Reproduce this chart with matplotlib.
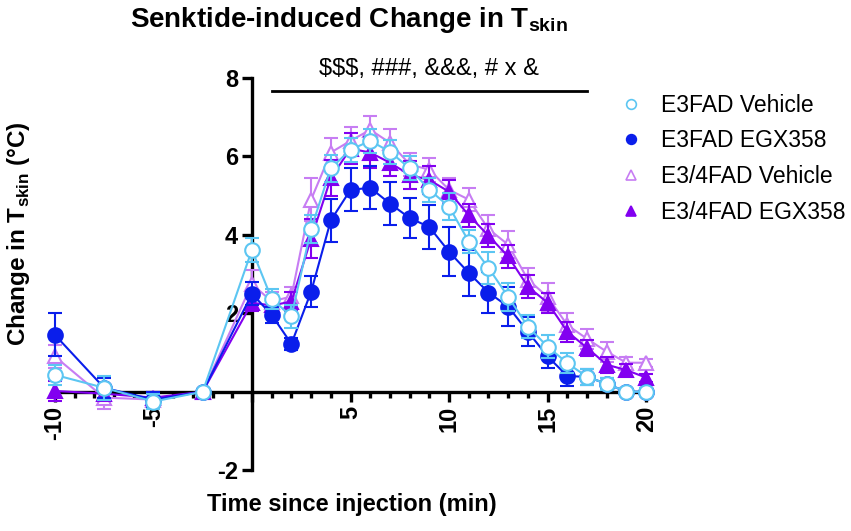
import numpy as np
import matplotlib
matplotlib.use("Agg")
import matplotlib.pyplot as plt
from matplotlib.lines import Line2D

plt.rcParams['font.family'] = ['Liberation Sans', 'DejaVu Sans']
plt.rcParams['mathtext.fontset'] = 'custom'
plt.rcParams['mathtext.rm'] = 'Liberation Sans'
plt.rcParams['mathtext.bf'] = 'Liberation Sans:bold'

# time points (min since injection)
times = [-10, -7.5, -5, -2.5, 0, 1, 2, 3, 4, 5, 6, 7, 8, 9, 10,
         11, 12, 13, 14, 15, 16, 17, 18, 19, 20]

e3_veh = [0.43, 0.1, -0.25, 0.0, 3.62, 2.37, 1.92, 4.15, 5.7, 6.17, 6.4, 6.12, 5.7,
          5.15, 4.72, 3.83, 3.16, 2.42, 1.66, 1.15, 0.73, 0.38, 0.2, 0.0, 0.0]
e3_veh_err = [0.25, 0.3, 0.2, 0.02, 0.3, 0.25, 0.3, 0.35, 0.35, 0.3, 0.3, 0.3, 0.3,
              0.3, 0.35, 0.3, 0.4, 0.35, 0.3, 0.3, 0.25, 0.2, 0.15, 0.1, 0.1]

e3_egx = [1.45, 0.1, -0.2, 0.0, 2.5, 1.96, 1.22, 2.55, 4.37, 5.15, 5.2, 4.8, 4.43,
          4.2, 3.57, 3.03, 2.53, 2.17, 1.53, 0.9, 0.4, 0.38, 0.2, 0.0, 0.0]
e3_egx_err = [0.55, 0.25, 0.2, 0.02, 0.3, 0.2, 0.15, 0.4, 0.55, 0.55, 0.55, 0.55, 0.5,
              0.55, 0.63, 0.58, 0.53, 0.49, 0.37, 0.3, 0.25, 0.2, 0.15, 0.1, 0.1]

e34_veh = [0.9, -0.15, -0.2, 0.0, 2.75, 2.3, 2.43, 4.9, 6.1, 6.4, 6.68, 6.35, 5.8,
           5.66, 5.15, 4.9, 4.15, 3.75, 2.86, 2.42, 1.7, 1.35, 1.02, 0.74, 0.74]
e34_veh_err = [0.3, 0.3, 0.2, 0.02, 0.35, 0.25, 0.25, 0.55, 0.38, 0.35, 0.36, 0.35, 0.3,
               0.3, 0.3, 0.3, 0.35, 0.35, 0.3, 0.35, 0.3, 0.25, 0.25, 0.15, 0.1]

e34_egx = [0.02, -0.05, -0.15, 0.0, 2.27, 2.2, 2.3, 3.9, 5.45, 6.2, 6.1, 5.84, 5.53,
           5.4, 5.1, 4.5, 3.98, 3.45, 2.68, 2.27, 1.53, 1.12, 0.69, 0.55, 0.36]
e34_egx_err = [0.25, 0.15, 0.15, 0.02, 0.2, 0.2, 0.25, 0.5, 0.45, 0.4, 0.4, 0.35, 0.35,
               0.35, 0.3, 0.3, 0.3, 0.3, 0.3, 0.25, 0.25, 0.2, 0.2, 0.15, 0.1]

labels = ['E3FAD Vehicle', 'E3FAD EGX358', 'E3/4FAD Vehicle', 'E3/4FAD EGX358']
colors = ['#5CC6F2', '#0A1EEB', '#C77DF3', '#8200F0']
markers = ['o', 'o', '^', '^']
filled = [False, True, False, True]

fig = plt.figure(figsize=(8.51, 5.31), dpi=100)
ax = fig.add_axes([0.0529, 0.0998, 0.718, 0.768])

series = [(e3_veh, e3_veh_err), (e3_egx, e3_egx_err),
          (e34_veh, e34_veh_err), (e34_egx, e34_egx_err)]
order = [2, 3, 1, 0]
for i in order:
    y, err = series[i]
    ax.errorbar(times, y, yerr=err, color=colors[i], lw=1.5, elinewidth=1.5,
                capsize=5, capthick=1.5, marker=markers[i], markersize=10.5,
                markeredgewidth=1.5, markeredgecolor=colors[i],
                markerfacecolor=colors[i] if filled[i] else 'white',
                clip_on=False, zorder=3 + order.index(i))

# axes styling
ax.set_xlim(-10.5, 20.5)
ax.set_ylim(-2.2, 8.2)
for s in ['top', 'right']:
    ax.spines[s].set_visible(False)
ax.spines['left'].set_position(('data', 0))
ax.spines['bottom'].set_position(('data', 0))
ax.spines['left'].set_bounds(-2, 8)
ax.spines['bottom'].set_bounds(-10, 20)
for s in ['left', 'bottom']:
    ax.spines[s].set_linewidth(2.4)

ax.set_xticks([-10, -5, 0, 5, 10, 15, 20])
ax.set_xticklabels(['-10', '-5', '', '5', '10', '15', '20'], rotation=90,
                   fontsize=17, fontweight='bold')
ax.set_xticks(np.arange(-10, 21, 1), minor=True)
ax.set_yticks([-2, 2, 4, 6, 8])
ax.set_yticklabels(['-2', '2', '4', '6', '8'], fontsize=17, fontweight='bold')
ax.tick_params(axis='both', which='major', length=7, width=2.4, pad=3)
ax.tick_params(axis='x', which='minor', length=4.5, width=2.4)

# significance bar
ax.plot([1, 17], [7.68, 7.68], color='black', lw=2, clip_on=False)
ax.text(9, 7.95, r'\$\$\$, ###, &&&, # x &', ha='center', va='bottom',
        fontsize=17)

fig.text(0.41, 0.963, r'Senktide-induced Change in T$_\mathbf{skin}$',
         ha='center', va='center', fontsize=20, fontweight='bold')
fig.text(0.413, 0.05, 'Time since injection (min)', ha='center', va='center',
         fontsize=17, fontweight='bold')
fig.text(0.022, 0.56, r'Change in T$_\mathbf{skin}$ (°C)', ha='center',
         va='center', rotation=90, fontsize=17.5, fontweight='bold')

handles = [Line2D([], [], linestyle='none', marker=markers[i], markersize=10,
                  markeredgewidth=1.2, markeredgecolor=colors[i],
                  markerfacecolor=colors[i] if filled[i] else 'white')
           for i in range(4)]
fig.legend(handles, labels, loc='upper left', bbox_to_anchor=(0.715, 0.845),
           frameon=False, fontsize=16.5, handlelength=1.0, handletextpad=0.8,
           labelspacing=0.55, borderpad=0, markerscale=0.7)

fig.savefig('out.png', dpi=100)
